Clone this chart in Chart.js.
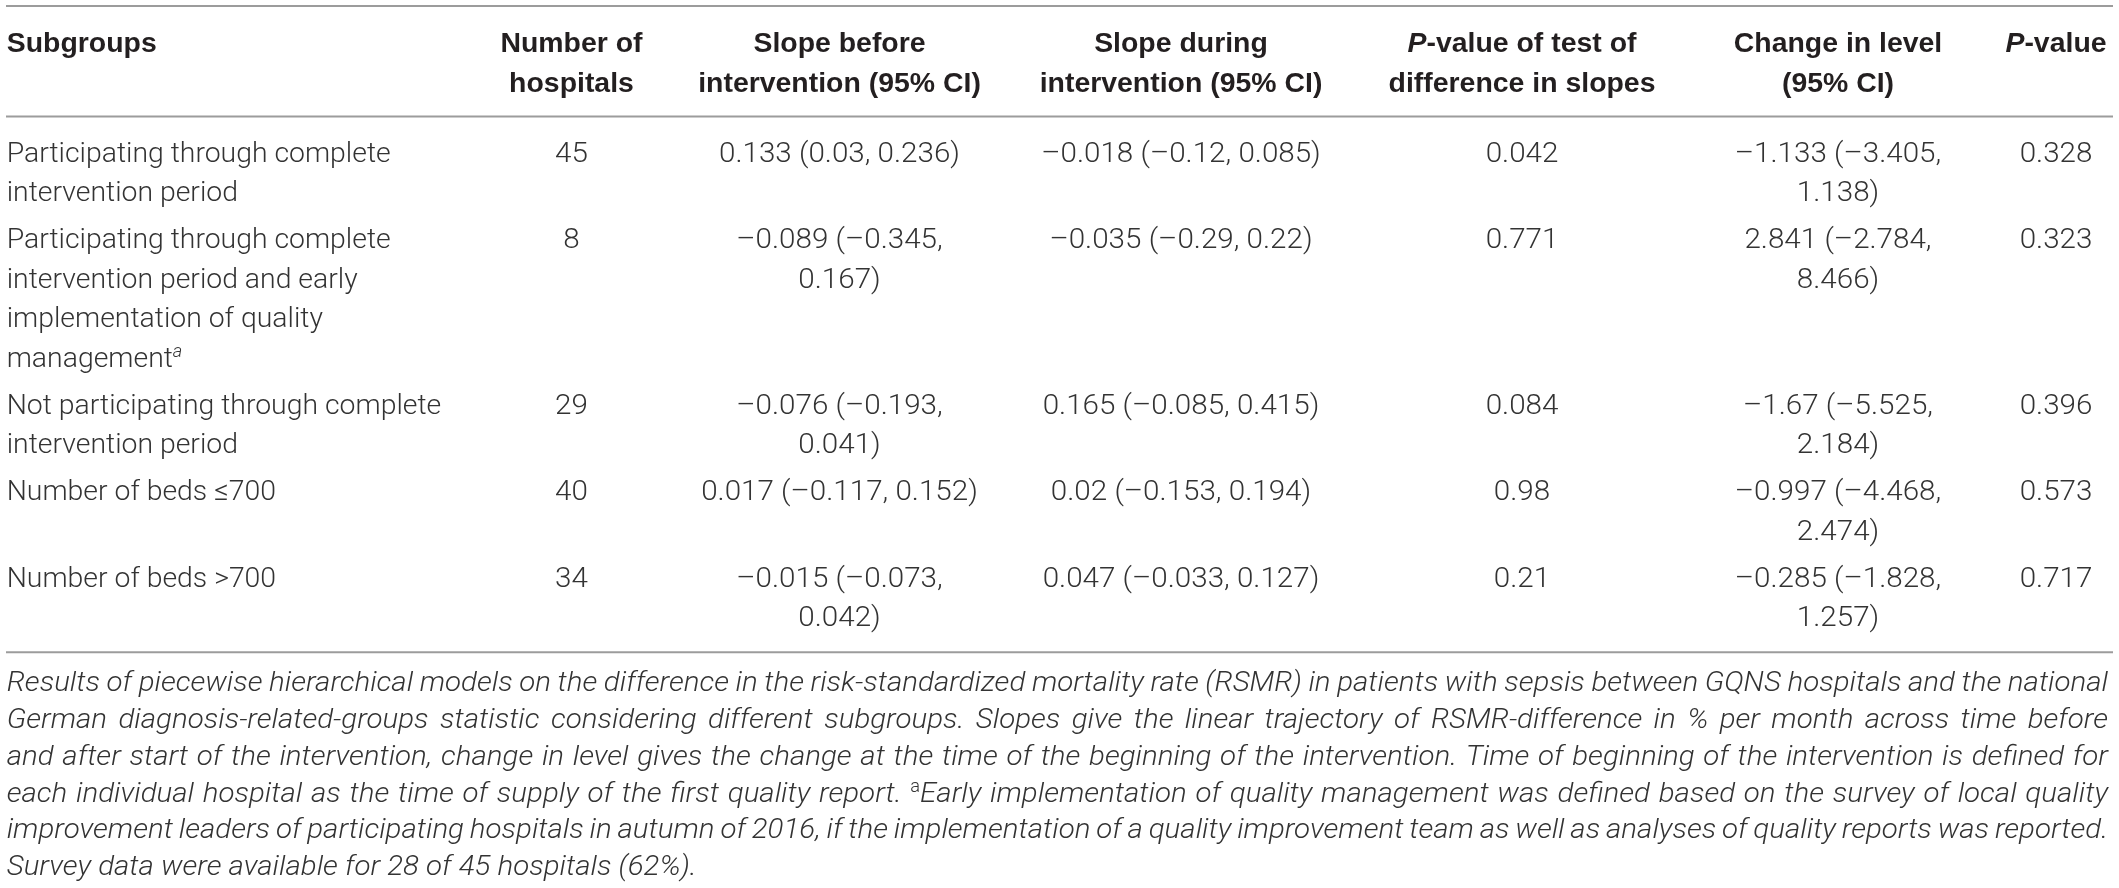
<!DOCTYPE html>
<html>
<head>
<meta charset="utf-8">
<script src="https://cdn.jsdelivr.net/npm/chart.js@4.4.1/dist/chart.umd.min.js"></script>
<style>
html,body{margin:0;padding:0;background:#fff;overflow:hidden}
canvas{display:block}
</style>
</head>
<body>
<canvas id="c" width="2119" height="888"></canvas>
<script>
// ---------------- DATA ----------------
const subgroups = [
  "Participating through complete intervention period",
  "Participating through complete intervention period and early implementation of quality management",
  "Not participating through complete intervention period",
  "Number of beds \u2264700",
  "Number of beds >700"
];
const subgroupNotes = ["", "a", "", "", ""];
const hospitals = [45, 8, 29, 40, 34];
const slopeBefore     = [0.133, -0.089, -0.076, 0.017, -0.015];
const slopeBeforeLow  = [0.03, -0.345, -0.193, -0.117, -0.073];
const slopeBeforeHigh = [0.236, 0.167, 0.041, 0.152, 0.042];
const slopeDuring     = [-0.018, -0.035, 0.165, 0.02, 0.047];
const slopeDuringLow  = [-0.12, -0.29, -0.085, -0.153, -0.033];
const slopeDuringHigh = [0.085, 0.22, 0.415, 0.194, 0.127];
const pSlopeDiff      = [0.042, 0.771, 0.084, 0.98, 0.21];
const levelChange     = [-1.133, 2.841, -1.67, -0.997, -0.285];
const levelChangeLow  = [-3.405, -2.784, -5.525, -4.468, -1.828];
const levelChangeHigh = [1.138, 8.466, 2.184, 2.474, 1.257];
const pLevel          = [0.328, 0.323, 0.396, 0.573, 0.717];

const columnHeaders = [
  ["Subgroups"],
  ["Number of", "hospitals"],
  ["Slope before", "intervention (95% CI)"],
  ["Slope during", "intervention (95% CI)"],
  ["*P*-value of test of", "difference in slopes"],
  ["Change in level", "(95% CI)"],
  ["*P*-value"]
];
const captionLines = [
  "Results of piecewise hierarchical models on the difference in the risk-standardized mortality rate (RSMR) in patients with sepsis between GQNS hospitals and the national",
  "German diagnosis-related-groups statistic considering different subgroups. Slopes give the linear trajectory of RSMR-difference in % per month across time before",
  "and after start of the intervention, change in level gives the change at the time of the beginning of the intervention. Time of beginning of the intervention is defined for",
  "each individual hospital as the time of supply of the first quality report. ^aEarly implementation of quality management was defined based on the survey of local quality",
  "improvement leaders of participating hospitals in autumn of 2016, if the implementation of a quality improvement team as well as analyses of quality reports was reported.",
  "Survey data were available for 28 of 45 hospitals (62%)."
];

// ---------------- LAYOUT / STYLE ----------------
const W = 2119, H = 888;
const LAYOUT = {
  ruleX: [6, 2113],
  colX: [6.7, 571.5, 839.5, 1181, 1522, 1838, 2056],
  colAlign: ["left", "center", "center", "center", "center", "center", "center"],
  colFont: ["reg", "num", "num", "num", "num", "num", "num"],
  colWrap: [458, 220, 290, 360, 300, 240, 150],
  topRule: 6,
  headerFirst: 42, headerLineH: 40, headerRule: 116.5,
  bodyFirst: 151.5, lineH: 39.5, rowGap: 7.5, bottomPad: 16.5,
  captionGap: 29, captionLineH: 36.8, captionLeft: 6.7, captionRight: 2108,
  capHalf: 10, supRaise: -10
};
const COLORS = { rule: "#9c9c9c", header: "#231f20", body: "#333333", caption: "#333333" };
const FONTS = {
  reg:    { css: '300 28px Roboto, "Liberation Sans", sans-serif' },
  num:    { css: '300 28px Roboto, "Liberation Sans", sans-serif' },
  bold:   { css: 'bold 28px "Liberation Sans", Arial, sans-serif' },
  boldIt: { css: 'italic bold 28px "Liberation Sans", Arial, sans-serif' },
  it:     { css: 'italic 300 28px Roboto, "Liberation Sans", sans-serif' },
  sup:    { css: '300 18px Roboto, "Liberation Sans", sans-serif' },
  supIt:  { css: 'italic 300 18px Roboto, "Liberation Sans", sans-serif' }
};
const CALIBRATE = {
  reg: ["Participating through complete", 384],
  num: ["0.133 (0.03, 0.236)", 241],
  bold: ["Subgroups", 150],
  it: ["Survey data were available for 28 of 45 hospitals (62%).", 690]
};

// ---------------- helpers ----------------
const mctx = document.createElement("canvas").getContext("2d");
function rawWidth(t, key) { mctx.font = FONTS[key].css; return mctx.measureText(t).width; }
(function calibrate() {
  const s = k => CALIBRATE[k][1] / rawWidth(CALIBRATE[k][0], k);
  const sReg = s("reg"), sNum = s("num"), sBold = s("bold"), sIt = s("it");
  FONTS.reg.sx = sReg; FONTS.sup.sx = sReg; FONTS.supIt.sx = sReg;
  FONTS.num.sx = sNum;
  FONTS.bold.sx = sBold; FONTS.boldIt.sx = sBold;
  FONTS.it.sx = sIt;
})();
function segWidth(seg) { return rawWidth(seg.t, seg.f) * FONTS[seg.f].sx; }
function runWidth(run) { return run.reduce((s, g) => s + segWidth(g), 0); }
function wrap(text, key, maxW) {
  const words = text.split(" "); const lines = []; let cur = "";
  words.forEach(w => {
    const test = cur ? cur + " " + w : w;
    if (cur && rawWidth(test, key) * FONTS[key].sx > maxW) { lines.push(cur); cur = w; }
    else cur = test;
  });
  if (cur) lines.push(cur);
  return lines;
}
function headerRun(str) {
  return str.split("*").map((t, i) => ({ t, f: i % 2 ? "boldIt" : "bold", dy: 0 })).filter(s => s.t);
}
const fmt = v => String(v).replace("-", "\u2013");
const ci = (v, lo, hi) => fmt(v) + " (" + fmt(lo) + ", " + fmt(hi) + ")";

// ---------------- build table cells ----------------
const bodyColumns = [
  subgroups,
  hospitals.map(String),
  slopeBefore.map((v, i) => ci(v, slopeBeforeLow[i], slopeBeforeHigh[i])),
  slopeDuring.map((v, i) => ci(v, slopeDuringLow[i], slopeDuringHigh[i])),
  pSlopeDiff.map(String),
  levelChange.map((v, i) => ci(v, levelChangeLow[i], levelChangeHigh[i])),
  pLevel.map(String)
];

const headerPoints = [];
columnHeaders.forEach((lines, c) => {
  lines.forEach((ln, k) => {
    headerPoints.push({ x: LAYOUT.colX[c], y: LAYOUT.headerFirst + k * LAYOUT.headerLineH,
      run: headerRun(ln), align: LAYOUT.colAlign[c], color: COLORS.header });
  });
});

const bodyPoints = [];
let rowCenter = LAYOUT.bodyFirst;
let lastBottom = 0;
subgroups.forEach((_, r) => {
  const cellLines = bodyColumns.map((col, c) => wrap(col[r], LAYOUT.colFont[c], LAYOUT.colWrap[c]));
  const n = Math.max(...cellLines.map(l => l.length));
  cellLines.forEach((lines, c) => {
    lines.forEach((ln, k) => {
      const run = [{ t: ln, f: LAYOUT.colFont[c], dy: 0 }];
      if (c === 0 && k === lines.length - 1 && subgroupNotes[r]) run.push({ t: subgroupNotes[r], f: "supIt", dy: LAYOUT.supRaise });
      bodyPoints.push({ x: LAYOUT.colX[c], y: rowCenter + k * LAYOUT.lineH, run, align: LAYOUT.colAlign[c], color: COLORS.body });
    });
  });
  lastBottom = rowCenter - LAYOUT.lineH / 2 + n * LAYOUT.lineH;
  rowCenter += n * LAYOUT.lineH + LAYOUT.rowGap;
});
const bottomRule = lastBottom + LAYOUT.bottomPad;

const captionPoints = captionLines.map((ln, i) => {
  const words = ln.split(" ").map(w => {
    if (w.startsWith("^a")) return [{ t: "a", f: "sup", dy: LAYOUT.supRaise }, { t: w.slice(2), f: "it", dy: 0 }];
    return [{ t: w, f: "it", dy: 0 }];
  });
  return { x: LAYOUT.captionLeft, y: bottomRule + LAYOUT.captionGap + i * LAYOUT.captionLineH,
    words, justify: i < captionLines.length - 1 ? LAYOUT.captionRight - LAYOUT.captionLeft : 0, color: COLORS.caption };
});

const ruleYs = [LAYOUT.topRule, LAYOUT.headerRule, bottomRule];

// ---------------- drawing plugin ----------------
function drawRun(ctx, run, x, baseY, align) {
  const w = runWidth(run);
  let cx = align === "center" ? x - w / 2 : (align === "right" ? x - w : x);
  run.forEach(seg => {
    const f = FONTS[seg.f];
    ctx.save();
    ctx.font = f.css;
    ctx.translate(cx, baseY + seg.dy);
    ctx.scale(f.sx, 1);
    ctx.fillText(seg.t, 0, 0);
    ctx.restore();
    cx += segWidth(seg);
  });
}
const tablePlugin = {
  id: "tableText",
  afterDatasetsDraw(chart) {
    const ctx = chart.ctx;
    ctx.save();
    ctx.textBaseline = "alphabetic";
    ctx.textAlign = "left";
    chart.data.datasets.forEach((ds, di) => {
      if (!ds.textCells) return;
      const meta = chart.getDatasetMeta(di);
      meta.data.forEach((el, j) => {
        const p = ds.data[j];
        ctx.fillStyle = p.color;
        const baseY = el.y + LAYOUT.capHalf;
        if (p.words) {
          const widths = p.words.map(runWidth);
          const spaceW = rawWidth(" ", "it") * FONTS.it.sx;
          const natural = widths.reduce((a, b) => a + b, 0);
          const gap = p.justify && p.words.length > 1 ? (p.justify - natural) / (p.words.length - 1) : spaceW;
          let cx = el.x;
          p.words.forEach((run, k) => { drawRun(ctx, run, cx, baseY, "left"); cx += widths[k] + gap; });
        } else {
          drawRun(ctx, p.run, el.x, baseY, p.align);
        }
      });
    });
    ctx.restore();
  }
};

const ruleDatasets = ruleYs.map(y => ({
  data: [{ x: LAYOUT.ruleX[0], y }, { x: LAYOUT.ruleX[1], y }],
  showLine: true, borderColor: COLORS.rule, borderWidth: 1.8, pointRadius: 0, pointHoverRadius: 0, clip: false
}));
const textDataset = pts => ({ data: pts, textCells: true, showLine: false, pointRadius: 0, pointHoverRadius: 0, clip: false });

new Chart(document.getElementById("c"), {
  type: "scatter",
  data: { datasets: [...ruleDatasets, textDataset(headerPoints), textDataset(bodyPoints), textDataset(captionPoints)] },
  options: {
    responsive: false,
    animation: false,
    events: [],
    devicePixelRatio: 1,
    layout: { padding: 0 },
    plugins: { legend: { display: false }, tooltip: { enabled: false } },
    scales: {
      x: { type: "linear", min: 0, max: W, display: false },
      y: { type: "linear", min: 0, max: H, reverse: true, display: false }
    }
  },
  plugins: [tablePlugin]
});
</script>
</body>
</html>
